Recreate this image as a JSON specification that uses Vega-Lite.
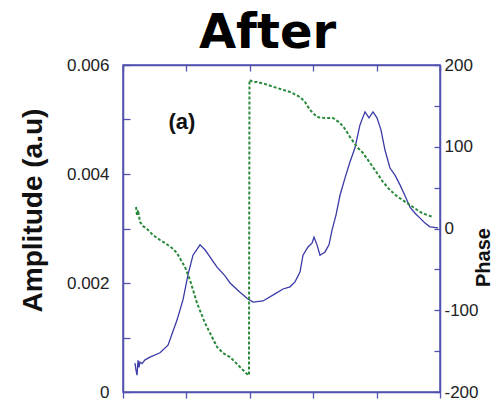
{
  "$schema": "https://vega.github.io/schema/vega-lite/v6.json",
  "width": 317,
  "height": 327,
  "autosize": {"type": "none"},
  "padding": {"left": 123, "top": 65, "right": 56, "bottom": 12},
  "background": "white",
  "config": {
    "view": {"stroke": "#5151b0", "strokeWidth": 1.5},
    "axis": {
      "domainColor": "#5151b0",
      "domainWidth": 1.5,
      "tickColor": "#5151b0",
      "tickWidth": 1.3,
      "labelFont": "Liberation Sans",
      "labelColor": "#222222",
      "labelFontSize": 17,
      "titleFont": "Liberation Sans",
      "titleFontWeight": "bold",
      "titleColor": "#111111",
      "grid": false
    }
  },
  "title": {
    "text": "After",
    "font": "DejaVu Sans",
    "fontSize": 48,
    "fontWeight": "bold",
    "color": "#000000",
    "anchor": "middle",
    "frame": "group",
    "dx": -14,
    "dy": 60,
    "offset": 10,
    "baseline": "bottom"
  },
  "datasets": {
    "amp": [
      {"x": 0.189, "amplitude": 0.00053},
      {"x": 0.205, "amplitude": 0.00040},
      {"x": 0.221, "amplitude": 0.00031},
      {"x": 0.237, "amplitude": 0.00058},
      {"x": 0.252, "amplitude": 0.00045},
      {"x": 0.268, "amplitude": 0.00055},
      {"x": 0.300, "amplitude": 0.00052},
      {"x": 0.347, "amplitude": 0.00059},
      {"x": 0.426, "amplitude": 0.00064},
      {"x": 0.584, "amplitude": 0.00072},
      {"x": 0.710, "amplitude": 0.00086},
      {"x": 0.852, "amplitude": 0.00132},
      {"x": 0.946, "amplitude": 0.00169},
      {"x": 1.025, "amplitude": 0.00215},
      {"x": 1.104, "amplitude": 0.00251},
      {"x": 1.215, "amplitude": 0.00270},
      {"x": 1.293, "amplitude": 0.00261},
      {"x": 1.372, "amplitude": 0.00248},
      {"x": 1.483, "amplitude": 0.00229},
      {"x": 1.609, "amplitude": 0.00213},
      {"x": 1.688, "amplitude": 0.00200},
      {"x": 1.845, "amplitude": 0.00183},
      {"x": 1.956, "amplitude": 0.00172},
      {"x": 2.050, "amplitude": 0.00165},
      {"x": 2.208, "amplitude": 0.00167},
      {"x": 2.397, "amplitude": 0.00180},
      {"x": 2.524, "amplitude": 0.00189},
      {"x": 2.634, "amplitude": 0.00193},
      {"x": 2.713, "amplitude": 0.00202},
      {"x": 2.792, "amplitude": 0.00220},
      {"x": 2.839, "amplitude": 0.00251},
      {"x": 2.918, "amplitude": 0.00266},
      {"x": 2.981, "amplitude": 0.00273},
      {"x": 3.013, "amplitude": 0.00284},
      {"x": 3.060, "amplitude": 0.00270},
      {"x": 3.107, "amplitude": 0.00251},
      {"x": 3.186, "amplitude": 0.00257},
      {"x": 3.249, "amplitude": 0.00270},
      {"x": 3.297, "amplitude": 0.00297},
      {"x": 3.360, "amplitude": 0.00325},
      {"x": 3.423, "amplitude": 0.00361},
      {"x": 3.502, "amplitude": 0.00393},
      {"x": 3.580, "amplitude": 0.00422},
      {"x": 3.659, "amplitude": 0.00448},
      {"x": 3.738, "amplitude": 0.00490},
      {"x": 3.817, "amplitude": 0.00514},
      {"x": 3.880, "amplitude": 0.00503},
      {"x": 3.943, "amplitude": 0.00514},
      {"x": 4.006, "amplitude": 0.00503},
      {"x": 4.069, "amplitude": 0.00481},
      {"x": 4.132, "amplitude": 0.00444},
      {"x": 4.211, "amplitude": 0.00411},
      {"x": 4.290, "amplitude": 0.00398},
      {"x": 4.369, "amplitude": 0.00380},
      {"x": 4.448, "amplitude": 0.00360},
      {"x": 4.527, "amplitude": 0.00339},
      {"x": 4.606, "amplitude": 0.00328},
      {"x": 4.685, "amplitude": 0.00319},
      {"x": 4.763, "amplitude": 0.00310},
      {"x": 4.842, "amplitude": 0.00303},
      {"x": 4.968, "amplitude": 0.00301}
    ],
    "phase": [
      {"x": 0.205, "phase": 26.3},
      {"x": 0.221, "phase": 16.5},
      {"x": 0.237, "phase": 22.6},
      {"x": 0.268, "phase": 8.0},
      {"x": 0.315, "phase": 3.1},
      {"x": 0.379, "phase": -0.6},
      {"x": 0.473, "phase": -8.0},
      {"x": 0.584, "phase": -14.1},
      {"x": 0.662, "phase": -17.7},
      {"x": 0.773, "phase": -23.9},
      {"x": 0.852, "phase": -30.0},
      {"x": 0.931, "phase": -41.0},
      {"x": 0.978, "phase": -47.1},
      {"x": 1.057, "phase": -63.0},
      {"x": 1.167, "phase": -91.1},
      {"x": 1.293, "phase": -115.6},
      {"x": 1.404, "phase": -132.7},
      {"x": 1.483, "phase": -144.9},
      {"x": 1.577, "phase": -152.3},
      {"x": 1.688, "phase": -157.2},
      {"x": 1.845, "phase": -169.4},
      {"x": 1.972, "phase": -179.2},
      {"x": 1.987, "phase": -179.5},
      {"x": 1.995, "phase": 181.7},
      {"x": 2.050, "phase": 179.2},
      {"x": 2.114, "phase": 179.2},
      {"x": 2.240, "phase": 176.8},
      {"x": 2.429, "phase": 171.9},
      {"x": 2.634, "phase": 167.0},
      {"x": 2.792, "phase": 160.9},
      {"x": 2.871, "phase": 154.7},
      {"x": 2.950, "phase": 145.0},
      {"x": 3.060, "phase": 136.4},
      {"x": 3.186, "phase": 135.2},
      {"x": 3.312, "phase": 135.2},
      {"x": 3.423, "phase": 129.1},
      {"x": 3.502, "phase": 121.7},
      {"x": 3.580, "phase": 111.9},
      {"x": 3.691, "phase": 99.7},
      {"x": 3.785, "phase": 92.4},
      {"x": 3.896, "phase": 80.2},
      {"x": 4.006, "phase": 67.9},
      {"x": 4.101, "phase": 56.9},
      {"x": 4.211, "phase": 47.1},
      {"x": 4.338, "phase": 38.5},
      {"x": 4.479, "phase": 31.2},
      {"x": 4.574, "phase": 26.3},
      {"x": 4.685, "phase": 20.2},
      {"x": 4.795, "phase": 16.5},
      {"x": 4.890, "phase": 14.1}
    ]
  },
  "layer": [
    {
      "layer": [
        {
          "data": {"name": "amp"},
          "mark": {"type": "line", "color": "#3a3aa8", "strokeWidth": 1.3},
          "encoding": {
            "x": {
              "field": "x",
              "type": "quantitative",
              "scale": {"domain": [0, 5], "nice": false},
              "axis": {"values": [0, 1, 2, 3, 4, 5], "labels": false, "tickSize": 6, "title": null}
            },
            "y": {
              "field": "amplitude",
              "type": "quantitative",
              "scale": {"domain": [0, 0.006], "nice": false},
              "axis": {
                "values": [0, 0.001, 0.002, 0.003, 0.004, 0.005, 0.006],
                "labelExpr": "datum.value == 0 ? '0' : (round(datum.value * 1000) % 2 == 0 ? format(datum.value, '.3f') : '')",
                "tickSize": -7,
                "labelPadding": 21,
                "title": "Amplitude (a.u)",
                "titleFontSize": 28,
                "titleAngle": -90,
                "titleBaseline": "middle",
                "titleAlign": "center",
                "titleX": -90,
                "titleY": 145
              }
            }
          }
        },
        {
          "data": {"values": [{"x": 0.93, "amplitude": 0.00495, "label": "(a)"}]},
          "mark": {"type": "text", "font": "Liberation Sans", "fontWeight": "bold", "fontSize": 22, "color": "#111111", "baseline": "middle", "align": "center"},
          "encoding": {
            "x": {"field": "x", "type": "quantitative"},
            "y": {"field": "amplitude", "type": "quantitative"},
            "text": {"field": "label"}
          }
        }
      ]
    },
    {
      "data": {"name": "phase"},
      "mark": {"type": "line", "color": "#2a8a3c", "strokeWidth": 2, "strokeDash": [3, 2]},
      "encoding": {
        "x": {
          "field": "x",
          "type": "quantitative",
          "axis": {"orient": "top", "values": [0, 1, 2, 3, 4, 5], "labels": false, "tickSize": -6, "title": null}
        },
        "y": {
          "field": "phase",
          "type": "quantitative",
          "scale": {"domain": [-200, 200], "nice": false},
          "axis": {
            "orient": "right",
            "values": [-200, -150, -100, -50, 0, 50, 100, 150, 200],
            "labelExpr": "datum.value % 100 == 0 ? '' + datum.value : ''",
            "tickSize": -6,
            "labelPadding": 10,
            "title": "Phase",
            "titleFontSize": 20,
            "titleAngle": -90,
            "titleBaseline": "middle",
            "titleAlign": "center",
            "titleX": 43,
            "titleY": 192
          }
        }
      }
    }
  ],
  "resolve": {"scale": {"y": "independent"}, "axis": {"x": "independent"}}
}
